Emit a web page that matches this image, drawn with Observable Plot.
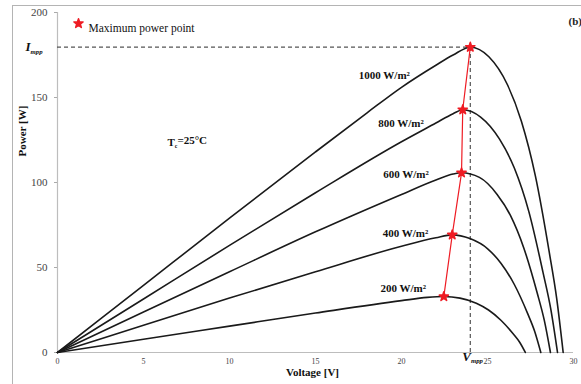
<!DOCTYPE html>
<html><head><meta charset="utf-8">
<script src="https://cdn.jsdelivr.net/npm/d3@7"></script>
<script src="https://cdn.jsdelivr.net/npm/@observablehq/plot@0.6"></script>
<style>
body{margin:0;background:#fff;}
#wrap{position:relative;width:581px;height:384px;overflow:hidden;background:#fff;}
#frame{position:absolute;left:12px;top:5px;width:700px;height:500px;border-left:1px solid #b4b4b4;border-top:1px solid #b4b4b4;pointer-events:none;}
</style></head><body><div id="wrap"></div>
<script>
// ---- data ----
const irradiance = [1000, 800, 600, 400, 200];
const v1000 = [0, 5, 10, 15, 18, 20, 22, 23, 24, 25.08, 26.16, 26.97, 27.78, 28.59, 29.02, 29.4];
const p1000 = [0, 39.5, 79, 118, 141, 156, 169, 175, 179.6, 174, 157.5, 136, 104, 59, 32, 0];
const v800 = [0, 5, 10, 15, 20, 22, 23, 23.56, 24.6, 25.7, 26.56, 27.4, 28.23, 28.68, 29.07];
const p800 = [0, 31.5, 63, 94, 124, 135, 140.5, 142.8, 138.5, 125.5, 108.5, 83, 47, 25.5, 0];
const v600 = [0, 5, 10, 15, 20, 22, 23, 23.49, 24.53, 25.56, 26.34, 27.11, 27.89, 28.3, 28.66];
const p600 = [0, 23.8, 47.5, 71, 93, 101.5, 105, 105.7, 103, 93, 80.5, 61.5, 35, 19, 0];
const v400 = [0, 5, 10, 15, 20, 22, 22.95, 23.98, 25.01, 25.78, 26.56, 27.33, 27.74, 28.1];
const p400 = [0, 16, 32, 47.5, 62.5, 67.5, 69.2, 67, 61, 52.5, 40, 23, 12.5, 0];
const v200 = [0, 5, 10, 15, 20, 21.5, 22.46, 23.4, 24.35, 25.06, 25.78, 26.49, 26.87, 27.2];
const p200 = [0, 7.8, 15.5, 23.2, 30.5, 32.4, 32.9, 32, 29, 25, 19, 11, 6, 0];
const mppVoltage = [24.0, 23.56, 23.49, 22.95, 22.46];
const mppPower = [179.6, 142.8, 105.7, 69.2, 32.9];
const Vmpp = 24.0, Impp = 179.6;
const curveLabels = ["1000 W/m²", "800 W/m²", "600 W/m²", "400 W/m²", "200 W/m²"];
const labelVoltage = [19.0, 19.97, 20.26, 20.23, 20.1];
const labelPower = [163, 134.9, 105, 70, 37.6];
const xTicks = [0, 5, 10, 15, 20, 25, 30];
const yTicks = [0, 50, 100, 150, 200];

// ---- tables ----
const series = [[v1000, p1000], [v800, p800], [v600, p600], [v400, p400], [v200, p200]];
const curveTable = series.flatMap(([vs, ps], k) => vs.map((v, i) => ({G: irradiance[k], V: v, P: ps[i]})));
const mppTable = mppVoltage.map((v, i) => ({V: v, P: mppPower[i]}));
const labelTable = curveLabels.map((t, i) => ({t, V: labelVoltage[i], P: labelPower[i]}));

const FONT = "'Liberation Serif', 'Times New Roman', serif";
const RED = "#ee1c24";
const chart = Plot.plot({
  width: 581, height: 384,
  marginLeft: 57, marginRight: 8, marginTop: 12, marginBottom: 32,
  style: {fontFamily: FONT, background: "transparent", overflow: "visible"},
  x: {domain: [0, 30]},
  y: {domain: [0, 200]},
  marks: [
    Plot.ruleY([0], {stroke: "#bdbdbd", strokeWidth: 1.2}),
    Plot.ruleX([0], {stroke: "#bdbdbd", strokeWidth: 1.2}),
    Plot.axisX(xTicks, {tickSize: 0, tickPadding: 6, fontSize: 8, fill: "#444", label: null}),
    Plot.axisY(yTicks, {tickSize: 3, tickPadding: 7, fontSize: 11, stroke: "#aaa", fill: "#444", label: null}),
    Plot.ruleY([Impp], {x1: 0, x2: Vmpp, stroke: "#555", strokeWidth: 1.2, strokeDasharray: "4,3"}),
    Plot.ruleX([Vmpp], {y1: 0, y2: Impp, stroke: "#555", strokeWidth: 1.2, strokeDasharray: "4,3"}),
    Plot.line(curveTable, {x: "V", y: "P", z: "G", stroke: "#1a1a1a", strokeWidth: 1.6, curve: "monotone-x"}),
    Plot.line(mppTable, {x: "V", y: "P", stroke: RED, strokeWidth: 1.2}),
    Plot.dot(mppTable, {x: "V", y: "P", symbol: "star", r: 2.9, fill: RED, stroke: RED, strokeWidth: 1.5, strokeLinejoin: "round"}),
    Plot.text(labelTable, {x: "V", y: "P", text: "t", fontSize: 11, fontWeight: "bold", fill: "#111"}),
    // legend
    Plot.dot([0], {frameAnchor: "top-left", dx: 21, dy: 11, symbol: "star", r: 2.9, fill: RED, stroke: RED, strokeWidth: 1.5, strokeLinejoin: "round"}),
    Plot.text(["Maximum power point"], {frameAnchor: "top-left", dx: 31, dy: 11, textAnchor: "start", fontSize: 11.5, fill: "#111"}),
    Plot.text(["(b)"], {frameAnchor: "top-right", dx: -5, dy: 5, textAnchor: "start", fontSize: 11, fontWeight: "bold", fill: "#222"}),
    Plot.text(["T_{c}=25°C"], {frameAnchor: "top-left", dx: 110, dy: 126, textAnchor: "start", fontSize: 11, fontWeight: "bold", fill: "#111"}),
    Plot.text([Impp], {y: d => d, frameAnchor: "left", text: () => "I_{mpp}", textAnchor: "start", dx: -32, fontSize: 13, fontWeight: "bold", fontStyle: "italic", fill: "#111"}),
    Plot.text([Vmpp], {x: d => d, frameAnchor: "bottom", text: () => "V_{mpp}", textAnchor: "start", dx: -8, dy: 8, fontSize: 13, fontWeight: "bold", fontStyle: "italic", fill: "#111"}),
    Plot.text(["Voltage [V]"], {frameAnchor: "bottom", dx: -3, dy: 23, fontSize: 11, fontWeight: "bold", fill: "#111"}),
    Plot.text(["Power [W]"], {frameAnchor: "left", dx: -35, dy: -26, rotate: -90, fontSize: 11, fontWeight: "bold", fill: "#111"})
  ]
});

// subscripts as real tspans
d3.select(chart).selectAll("text").each(function() {
  const t = this.textContent;
  const m = t.match(/^(.*?)_\{(.*?)\}(.*)$/);
  if (!m) return;
  const sel = d3.select(this);
  sel.text(null);
  sel.append("tspan").text(m[1]);
  sel.append("tspan").attr("dy", "0.35em").attr("font-size", "0.52em").text(m[2]);
  if (m[3]) sel.append("tspan").attr("dy", "-0.35em").text(m[3]);
});

const wrap = document.getElementById("wrap");
wrap.appendChild(chart);
const frame = document.createElement("div");
frame.id = "frame";
wrap.appendChild(frame);
</script>
</body></html>
